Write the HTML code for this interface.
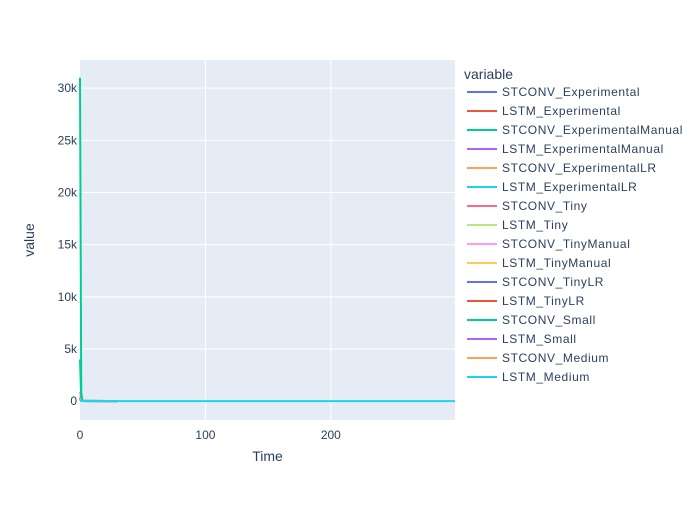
<!DOCTYPE html>
<html><head><meta charset="utf-8"><style>
body{margin:0;background:#fff;font-family:"Liberation Sans",sans-serif;}
</style></head><body>
<svg id="chart" width="700" height="500" xmlns="http://www.w3.org/2000/svg">
<rect x="0" y="0" width="700" height="500" fill="#fff"/>
<rect x="80" y="60" width="375" height="360" fill="#e5ecf6"/>
<g id="grid"></g><g id="series"></g><g id="axes"></g><g id="legend"></g>
</svg>
<script>
const seriesNames=["STCONV_Experimental","LSTM_Experimental","STCONV_ExperimentalManual","LSTM_ExperimentalManual","STCONV_ExperimentalLR","LSTM_ExperimentalLR","STCONV_Tiny","LSTM_Tiny","STCONV_TinyManual","LSTM_TinyManual","STCONV_TinyLR","LSTM_TinyLR","STCONV_Small","LSTM_Small","STCONV_Medium","LSTM_Medium"];
const seriesColors=["#636efa","#EF553B","#00cc96","#ab63fa","#FFA15A","#19d3f3","#FF6692","#B6E880","#FF97FF","#FECB52","#636efa","#EF553B","#00cc96","#ab63fa","#FFA15A","#19d3f3"];
const seriesX=[[0,1,30],[0,1,30],[0,1,2,30],[0,1,30],[0,1,30],[0,1,30],[0,1,30],[0,1,30],[0,1,30],[0,1,30],[0,1,30],[0,1,30],[0,1,30],[0,1,30],[0,1,30],[0,1,299]];
const seriesY=[[300,20,10],[200,15,10],[31000,800,30,10],[250,20,10],[300,20,10],[200,15,10],[400,30,10],[300,20,10],[900,40,10],[300,20,10],[300,20,10],[200,15,10],[4000,60,10],[300,20,10],[300,20,10],[150,10,5]];
const xTicks=[0,100,200];
const yTicks=[0,5000,10000,15000,20000,25000,30000];
const yTickLabels=["0","5k","10k","15k","20k","25k","30k"];
const xMin=0,xMax=299,yMin=-1800,yMax=32700;
const X=v=>80+(v-xMin)/(xMax-xMin)*375;
const Y=v=>420-(v-yMin)/(yMax-yMin)*360;
const NS="http://www.w3.org/2000/svg";
function mk(tag,attrs,parent,text){const e=document.createElementNS(NS,tag);for(const k in attrs)e.setAttribute(k,attrs[k]);if(text!==undefined)e.textContent=text;parent.appendChild(e);return e;}
const grid=document.getElementById('grid'),axes=document.getElementById('axes'),ser=document.getElementById('series'),leg=document.getElementById('legend');
xTicks.forEach(t=>{
 if(t!==0){const l=mk('line',{x1:X(t),x2:X(t),y1:60,y2:420,stroke:'#fff','stroke-width':1},grid);
 
 }
 const tx=mk('text',{x:X(t),y:439,'text-anchor':'middle','font-size':12,fill:'#2a3f5f'},axes,String(t));
 
 
});
yTicks.forEach((t,i)=>{
 const l=mk('line',{x1:80,x2:455,y1:Y(t),y2:Y(t),stroke:'#fff','stroke-width':t===0?2:1},grid);
 
 
 const tx=mk('text',{x:77,y:Y(t)+4,'text-anchor':'end','font-size':12,fill:'#2a3f5f'},axes,yTickLabels[i]);
 
 
});
const xt=mk('text',{x:267.5,y:461,'text-anchor':'middle','font-size':14,fill:'#2a3f5f'},axes,'Time');


const yt=mk('text',{x:0,y:0,'text-anchor':'middle','font-size':14,fill:'#2a3f5f',transform:'translate(34,240) rotate(-90)'},axes,'value');


seriesNames.forEach((n,i)=>{
 const pts=seriesX[i].map((x,j)=>X(x).toFixed(2)+','+Y(seriesY[i][j]).toFixed(2)).join(' ');
 const p=mk('polyline',{points:pts,fill:'none',stroke:seriesColors[i],'stroke-width':2},ser);
 
 
});
const lt=mk('text',{x:464,y:79,'font-size':14,fill:'#2a3f5f'},leg,'variable');


seriesNames.forEach((n,i)=>{
 const y=92+i*19;
 const g=mk('g',{},leg);
 
 
 mk('line',{x1:467,x2:497,y1:y,y2:y,stroke:seriesColors[i],'stroke-width':2},g);
 mk('text',{x:502,y:y+4,'font-size':12,'letter-spacing':0.6,fill:'#2a3f5f'},g,n);
});
</script>
</body></html>
